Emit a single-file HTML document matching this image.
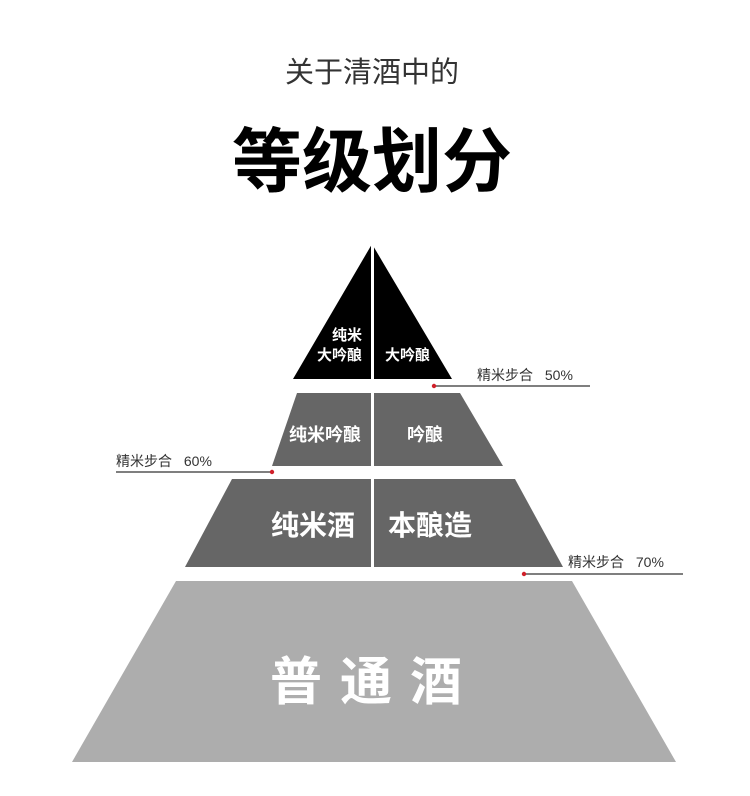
<!DOCTYPE html>
<html><head><meta charset="utf-8"><style>
html,body{margin:0;padding:0;background:#fff;width:750px;height:796px;overflow:hidden}
svg{display:block}
text{font-family:"Liberation Sans","Noto Sans CJK SC",sans-serif}
</style></head><body>
<svg width="750" height="796" viewBox="0 0 750 796">
<text x="372" y="82" text-anchor="middle" font-size="29" fill="#333">关于清酒中的</text>
<text x="372" y="186" text-anchor="middle" font-size="70" font-weight="bold" fill="#000">等级划分</text>

<polygon points="372,244 452,379 293,379" fill="#000"/>
<polygon points="297,393 460,393 503,466 272,466" fill="#666"/>
<polygon points="232,479 515,479 563,567 185,567" fill="#666"/>
<polygon points="176,581 572,581 676,762 72,762" fill="#adadad"/>
<rect x="371" y="240" width="3" height="330" fill="#fff"/>

<text x="362" y="340" text-anchor="end" font-size="15" font-weight="bold" fill="#fff">纯米</text>
<text x="362" y="360" text-anchor="end" font-size="15" font-weight="bold" fill="#fff">大吟酿</text>
<text x="385" y="360" font-size="15" font-weight="bold" fill="#fff">大吟酿</text>
<text x="361" y="441" text-anchor="end" font-size="18" font-weight="bold" fill="#fff">纯米吟酿</text>
<text x="425" y="441" text-anchor="middle" font-size="18" font-weight="bold" fill="#fff">吟酿</text>
<text x="355" y="535" text-anchor="end" font-size="28" font-weight="bold" fill="#fff">纯米酒</text>
<text x="388" y="535" font-size="28" font-weight="bold" fill="#fff">本酿造</text>
<text x="375" y="700" text-anchor="middle" font-size="52" font-weight="bold" fill="#fff" letter-spacing="18">普通酒</text>

<line x1="433" y1="386" x2="590" y2="386" stroke="#555" stroke-width="1.5"/>
<circle cx="434" cy="386" r="2.2" fill="#d0202a"/>
<text x="477" y="380" font-size="14" fill="#333">精米步合 <tspan dx="8">50%</tspan></text>

<line x1="116" y1="472" x2="272" y2="472" stroke="#555" stroke-width="1.5"/>
<circle cx="272" cy="472" r="2.2" fill="#d0202a"/>
<text x="116" y="466" font-size="14" fill="#333">精米步合 <tspan dx="8">60%</tspan></text>

<line x1="523" y1="574" x2="683" y2="574" stroke="#555" stroke-width="1.5"/>
<circle cx="524" cy="574" r="2.2" fill="#d0202a"/>
<text x="568" y="567" font-size="14" fill="#333">精米步合 <tspan dx="8">70%</tspan></text>
</svg>
</body></html>
